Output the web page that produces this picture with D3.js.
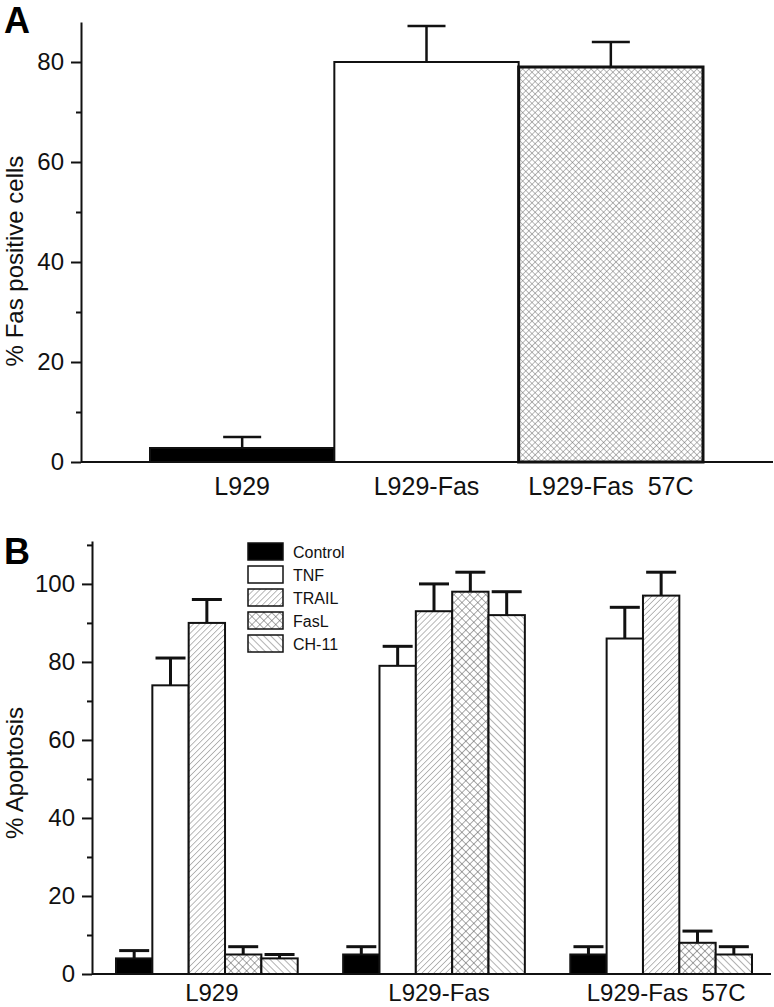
<!DOCTYPE html>
<html>
<head>
<meta charset="utf-8">
<script src="https://cdn.jsdelivr.net/npm/d3@7"></script>
<style>
  body { margin: 0; background: #fff; }
  svg { display: block; font-family: "Liberation Sans", Arial, sans-serif; }
</style>
</head>
<body>
<svg id="chart" width="774" height="1007"></svg>
<script>
// panel A data
var catsA = ["L929", "L929-Fas", "L929-Fas  57C"];
var valuesA = [2.8, 80, 79];
var errA = [2.2, 7.2, 5];
var fillsA = ["black", "white", "url(#xhatchA)"];

// panel B data
var groupsB = ["L929", "L929-Fas", "L929-Fas  57C"];
var treatments = ["Control", "TNF", "TRAIL", "FasL", "CH-11"];
var valuesB = [
	[4, 74, 90, 5, 4],
	[5, 79, 93, 98, 92],
	[5, 86, 97, 8, 5]
];
var errB = [
	[2, 7, 6, 2, 1],
	[2, 5, 7, 5, 6],
	[2, 8, 6, 3, 2]
];
var fillsB = ["black", "white", "url(#fwdB)", "url(#xhatchB)", "url(#backB)"];

var majorA = [0, 20, 40, 60, 80], minorA = [10, 30, 50, 70];
var majorB = [0, 20, 40, 60, 80, 100], minorB = [10, 30, 50, 70, 90, 110];

var svg = d3.select("#chart");
var defs = svg.append("defs");

// hatch patterns: lines in a rotated tile
function hatch(id, size, angle, cross, color, w) {
	var p = defs.append("pattern").attr("id", id)
		.attr("patternUnits", "userSpaceOnUse")
		.attr("width", size).attr("height", size)
		.attr("patternTransform", "rotate(" + angle + ")");
	p.append("rect").attr("width", size).attr("height", size).attr("fill", "white");
	p.append("line").attr("x1", 0).attr("y1", 0).attr("x2", 0).attr("y2", size)
		.attr("stroke", color).attr("stroke-width", w);
	if (cross)
		p.append("line").attr("x1", 0).attr("y1", 0).attr("x2", size).attr("y2", 0)
			.attr("stroke", color).attr("stroke-width", w);
}
hatch("xhatchA", 4.4, 45, true, "#666", 0.9);
hatch("fwdB", 4.2, 45, false, "#666", 0.9);
hatch("xhatchB", 5.6, 45, true, "#555", 1);
hatch("backB", 5, -45, false, "#555", 0.9);

function yAxis(g, y, x, major, minor) {
	var ax = g.append("g").attr("transform", "translate(" + x + ",0)")
		.call(d3.axisLeft(y).tickValues(major).tickSize(10).tickSizeOuter(0).tickPadding(7));
	ax.selectAll("text").attr("font-size", 24).attr("fill", "#111").attr("font-family", null);
	ax.selectAll("line, path").attr("stroke", "#111").attr("stroke-width", 2);
	var mn = g.append("g").attr("transform", "translate(" + x + ",0)")
		.call(d3.axisLeft(y).tickValues(minor).tickSize(5).tickFormat(""));
	mn.select(".domain").remove();
	mn.selectAll("line").attr("stroke", "#111").attr("stroke-width", 2);
}

function errorBar(g, cx, yTop, yEnd, capW, sw) {
	g.append("line").attr("x1", cx).attr("x2", cx).attr("y1", yTop).attr("y2", yEnd)
		.attr("stroke", "#111").attr("stroke-width", sw);
	g.append("line").attr("x1", cx - capW / 2).attr("x2", cx + capW / 2).attr("y1", yEnd).attr("y2", yEnd)
		.attr("stroke", "#111").attr("stroke-width", sw);
}

// ---------- Panel A ----------
var gA = svg.append("g");
var axisXA = 81, xEndA = 773;
var yA = d3.scaleLinear().domain([0, 88]).range([462, 22]);
var xA = d3.scaleBand().domain(catsA).range([150, 703]).padding(0);

catsA.forEach(function(c, i) {
	errorBar(gA, xA(c) + xA.bandwidth() / 2, yA(valuesA[i]), yA(valuesA[i] + errA[i]), 38, 2.5);
});
gA.selectAll(".barA").data(catsA).enter().append("rect")
	.attr("class", "barA")
	.attr("x", function(d) { return xA(d); })
	.attr("y", function(d, i) { return yA(valuesA[i]); })
	.attr("width", xA.bandwidth())
	.attr("height", function(d, i) { return yA(0) - yA(valuesA[i]); })
	.attr("fill", function(d, i) { return fillsA[i]; })
	.attr("stroke", "#111")
	.attr("stroke-width", function(d, i) { return i == 2 ? 3 : 2; });

gA.append("line").attr("x1", axisXA).attr("x2", xEndA).attr("y1", yA(0)).attr("y2", yA(0))
	.attr("stroke", "#111").attr("stroke-width", 2);
yAxis(gA, yA, axisXA, majorA, minorA);

gA.selectAll(".catA").data(catsA).enter().append("text")
	.attr("x", function(d) { return xA(d) + xA.bandwidth() / 2; })
	.attr("y", 495)
	.attr("text-anchor", "middle")
	.attr("font-size", 25)
	.style("white-space", "pre")
	.attr("fill", "#111")
	.text(function(d) { return d; });

gA.append("text").attr("transform", "translate(23," + 261 + ") rotate(-90)")
	.attr("text-anchor", "middle").attr("font-size", 24).attr("fill", "#111")
	.text("% Fas positive cells");
gA.append("text").attr("x", 4).attr("y", 33).attr("font-size", 36).attr("font-weight", "bold")
	.text("A");

// ---------- Panel B ----------
var gB = svg.append("g");
var axisXB = 92, xEndB = 771;
var yB = d3.scaleLinear().domain([0, 111]).range([974, 541]);
var xB0 = d3.scaleBand().domain(groupsB).range([116, 752]).paddingInner(0.2).paddingOuter(0);
var xB1 = d3.scaleBand().domain(treatments).range([0, xB0.bandwidth()]).padding(0);

var groupG = gB.selectAll(".grp").data(groupsB).enter().append("g")
	.attr("class", "grp")
	.attr("transform", function(d) { return "translate(" + xB0(d) + ",0)"; });

groupG.each(function(grp, gi) {
	var g = d3.select(this);
	treatments.forEach(function(t, ti) {
		errorBar(g, xB1(t) + xB1.bandwidth() / 2, yB(valuesB[gi][ti]), yB(valuesB[gi][ti] + errB[gi][ti]), 30, 3);
	});
	g.selectAll("rect").data(treatments).enter().append("rect")
		.attr("x", function(t) { return xB1(t); })
		.attr("y", function(t, ti) { return yB(valuesB[gi][ti]); })
		.attr("width", xB1.bandwidth())
		.attr("height", function(t, ti) { return yB(0) - yB(valuesB[gi][ti]); })
		.attr("fill", function(t, ti) { return fillsB[ti]; })
		.attr("stroke", "#111")
		.attr("stroke-width", 2);
});

gB.append("line").attr("x1", axisXB).attr("x2", xEndB).attr("y1", yB(0)).attr("y2", yB(0))
	.attr("stroke", "#111").attr("stroke-width", 2);
yAxis(gB, yB, axisXB, majorB, minorB);

gB.selectAll(".catB").data(groupsB).enter().append("text")
	.attr("x", function(d) { return xB0(d) + xB0.bandwidth() / 2 + 5; })
	.attr("y", 1001)
	.attr("text-anchor", "middle")
	.attr("font-size", 24)
	.style("white-space", "pre")
	.attr("fill", "#111")
	.text(function(d) { return d; });

gB.append("text").attr("transform", "translate(23," + 773 + ") rotate(-90)")
	.attr("text-anchor", "middle").attr("font-size", 24).attr("fill", "#111")
	.text("% Apoptosis");
gB.append("text").attr("x", 4).attr("y", 564).attr("font-size", 36).attr("font-weight", "bold")
	.text("B");

// legend
var legend = gB.append("g").attr("transform", "translate(248,543)");
var item = legend.selectAll(".item").data(treatments).enter().append("g")
	.attr("transform", function(d, i) { return "translate(0," + i * 23 + ")"; });
item.append("rect").attr("width", 35).attr("height", 17)
	.attr("fill", function(d, i) { return fillsB[i]; })
	.attr("stroke", "#111").attr("stroke-width", 1.5);
item.append("text").attr("x", 45).attr("y", 14.5).attr("font-size", 16).attr("fill", "#111")
	.text(function(d) { return d; });
</script>
</body>
</html>
